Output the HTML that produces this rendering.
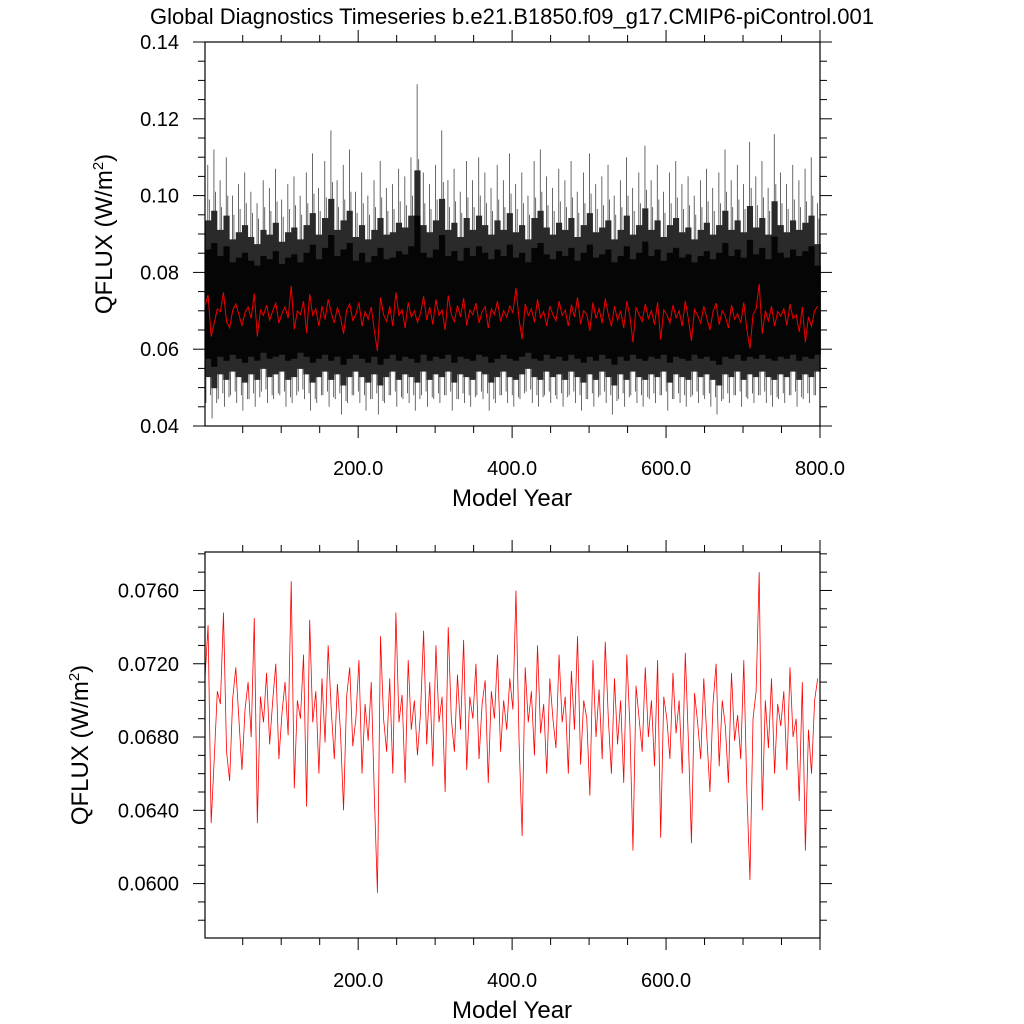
<!DOCTYPE html>
<html><head><meta charset="utf-8"><style>
html,body{margin:0;padding:0;background:#fff}
svg{display:block;font-family:"Liberation Sans",Arial,sans-serif}
</style></head><body>
<svg id="chart" width="1024" height="1024" viewBox="0 0 1024 1024">
<text x="512" y="24" text-anchor="middle" font-size="22">Global Diagnostics Timeseries b.e21.B1850.f09_g17.CMIP6-piControl.001</text>
<g id="top"></g>
<g id="bot"></g>
</svg>
<script>
// annual-mean QFLUX, years 1,5,9,...,797
const annualYears = [];
for (let i = 0; i < 200; i++) annualYears.push(1 + 4 * i);
const annualValues = [
0.0712,0.0741,0.0633,0.0668,0.0705,0.0698,0.0748,0.0672,0.0656,0.0701,0.0718,0.0690,0.0662,0.0695,0.0710,0.0680,0.0745,0.0633,0.0702,0.0688,0.0715,0.0676,0.0700,0.0720,0.0668,
0.0693,0.0710,0.0681,0.0765,0.0652,0.0700,0.0690,0.0725,0.0642,0.0744,0.0688,0.0705,0.0660,0.0712,0.0677,0.0730,0.0695,0.0668,0.0709,0.0683,0.0640,0.0702,0.0718,0.0675,0.0690,
0.0722,0.0660,0.0698,0.0678,0.0710,0.0648,0.0595,0.0735,0.0690,0.0672,0.0712,0.0660,0.0748,0.0688,0.0703,0.0655,0.0722,0.0684,0.0700,0.0670,0.0693,0.0738,0.0676,0.0710,0.0664,
0.0730,0.0688,0.0702,0.0650,0.0740,0.0690,0.0672,0.0714,0.0684,0.0733,0.0662,0.0702,0.0690,0.0720,0.0668,0.0698,0.0711,0.0655,0.0705,0.0690,0.0725,0.0672,0.0700,0.0684,0.0712,
0.0695,0.0760,0.0678,0.0626,0.0718,0.0688,0.0705,0.0670,0.0730,0.0682,0.0698,0.0660,0.0712,0.0690,0.0674,0.0725,0.0688,0.0702,0.0660,0.0716,0.0684,0.0735,0.0665,0.0700,0.0690,
0.0648,0.0722,0.0680,0.0706,0.0668,0.0732,0.0690,0.0660,0.0712,0.0676,0.0700,0.0655,0.0725,0.0686,0.0618,0.0708,0.0690,0.0672,0.0718,0.0680,0.0700,0.0664,0.0722,0.0625,0.0702,
0.0690,0.0668,0.0715,0.0682,0.0700,0.0660,0.0726,0.0678,0.0622,0.0704,0.0688,0.0668,0.0712,0.0680,0.0650,0.0698,0.0720,0.0664,0.0700,0.0686,0.0655,0.0715,0.0678,0.0692,0.0668,
0.0722,0.0650,0.0602,0.0690,0.0705,0.0770,0.0640,0.0700,0.0674,0.0712,0.0660,0.0698,0.0686,0.0705,0.0662,0.0718,0.0680,0.0690,0.0645,0.0710,0.0618,0.0684,0.0660,0.0700,0.0712];
// monthly extremes per 8-year bin
const monthlyHi = [0.108,0.112,0.104,0.110,0.100,0.103,0.106,0.101,0.098,0.104,0.102,0.107,0.099,0.103,0.105,0.100,0.106,0.111,0.102,0.109,0.117,0.104,0.108,0.112,0.101,0.106,0.100,0.104,0.109,0.102,0.103,0.107,0.105,0.110,0.129,0.106,0.103,0.108,0.117,0.104,0.107,0.101,0.109,0.104,0.110,0.106,0.102,0.108,0.104,0.111,0.103,0.106,0.100,0.109,0.112,0.105,0.102,0.107,0.104,0.109,0.101,0.106,0.111,0.103,0.105,0.108,0.100,0.104,0.110,0.102,0.106,0.113,0.104,0.108,0.101,0.106,0.109,0.103,0.105,0.100,0.104,0.107,0.102,0.106,0.112,0.104,0.108,0.103,0.114,0.105,0.109,0.102,0.116,0.106,0.103,0.108,0.104,0.107,0.110,0.098];
const monthlyLo = [0.046,0.042,0.047,0.045,0.048,0.046,0.044,0.047,0.045,0.049,0.046,0.047,0.048,0.045,0.046,0.049,0.047,0.044,0.046,0.048,0.045,0.047,0.043,0.046,0.048,0.046,0.044,0.047,0.043,0.046,0.048,0.045,0.047,0.046,0.044,0.048,0.045,0.047,0.046,0.048,0.044,0.047,0.046,0.045,0.048,0.047,0.044,0.046,0.048,0.046,0.045,0.047,0.049,0.046,0.045,0.048,0.046,0.047,0.045,0.048,0.046,0.044,0.047,0.045,0.048,0.046,0.043,0.047,0.045,0.048,0.046,0.045,0.047,0.046,0.048,0.044,0.047,0.046,0.045,0.048,0.046,0.047,0.045,0.043,0.047,0.046,0.048,0.045,0.047,0.046,0.048,0.046,0.045,0.047,0.046,0.048,0.045,0.047,0.046,0.048];
const topYTicks = ["0.04","0.06","0.08","0.10","0.12","0.14"];
const botYTicks = ["0.0600","0.0640","0.0680","0.0720","0.0760"];
const xTickLabels = ["200.0","400.0","600.0","800.0"];

const NS = "http://www.w3.org/2000/svg";
function mk(tag, attrs, parent) {
  const e = document.createElementNS(NS, tag);
  for (const k in attrs) e.setAttribute(k, attrs[k]);
  parent.appendChild(e); return e;
}
const L = 205, R = 820;
const xs = yr => L + (yr - 1) * (R - L) / 799;
const P1 = {top: 42, bot: 426, vmin: 0.04, vmax: 0.14};
const P2 = {top: 552, bot: 938, vmin: 0.05703, vmax: 0.0781};
const ys = (P, v) => P.bot - (v - P.vmin) / (P.vmax - P.vmin) * (P.bot - P.top);

function frame(g, P, yMajor, yMinor, yLabels, xMaxLabel, titleX) {
  const fr = mk('rect', {x: L, y: P.top, width: R - L, height: P.bot - P.top, fill: 'none', stroke: '#000', 'stroke-width': 1.2}, g);
  
  
  for (let yr = 50; yr <= 800; yr += 50) {
    if (xs(yr) > R + 0.5) continue;
    const maj = yr % 200 === 0, len = maj ? 12 : 7;
    mk('line', {x1: xs(yr), x2: xs(yr), y1: P.bot, y2: P.bot + len, stroke: '#000'}, g);
    mk('line', {x1: xs(yr), x2: xs(yr), y1: P.top, y2: P.top - len, stroke: '#000'}, g);
  }
  xTickLabels.forEach(s => {
    const yr = parseFloat(s);
    if (yr > xMaxLabel) return;
    const t = mk('text', {x: xs(yr), y: P.bot + 49, 'text-anchor': 'middle', 'font-size': 20}, g);
    t.textContent = s;
    
    
  });
  for (let v = Math.ceil(P.vmin / yMinor - 1e-6) * yMinor; v <= P.vmax + 1e-9; v += yMinor) {
    const r = Math.round(v / yMinor);
    const maj = Math.abs(r % Math.round(yMajor / yMinor)) === 0;
    const len = maj ? 12 : 7, y = ys(P, v);
    mk('line', {x1: L, x2: L - len, y1: y, y2: y, stroke: '#000'}, g);
    mk('line', {x1: R, x2: R + len, y1: y, y2: y, stroke: '#000'}, g);
  }
  yLabels.forEach(s => {
    const t = mk('text', {x: 179, y: ys(P, parseFloat(s)) + 7, 'text-anchor': 'end', 'font-size': 20}, g);
    t.textContent = s;
    
    
  });
  const xt = mk('text', {x: 512, y: P.bot + 80, 'text-anchor': 'middle', 'font-size': 24}, g);
  xt.textContent = 'Model Year';
  
  
  const cy = (P.top + P.bot) / 2;
  const yt = mk('text', {x: titleX, y: cy, 'text-anchor': 'middle', 'font-size': 24, transform: `rotate(-90 ${titleX} ${cy})`}, g);
  yt.innerHTML = 'QFLUX (W/m<tspan dy="-9" font-size="15">2</tspan><tspan dy="9">)</tspan>';
  
  
}

// top panel: monthly series drawn as per-bin bands + spikes
const gt = document.getElementById('top');
const binW = xs(9) - xs(1);
let mid = '', inner = '', sp = '';
monthlyHi.forEach((h, i) => {
  const lo = monthlyLo[i];
  const x0 = xs(1 + i * 8);
  const mHi = 0.07 + (h - 0.07) * 0.62, mLo = 0.07 - (0.07 - lo) * 0.72;
  const iHi = 0.07 + (h - 0.07) * 0.42, iLo = 0.07 - (0.07 - lo) * 0.52;
  mid += `M${x0} ${ys(P1, mHi)}H${x0 + binW}V${ys(P1, mLo)}H${x0}Z `;
  inner += `M${x0} ${ys(P1, iHi)}H${x0 + binW}V${ys(P1, iLo)}H${x0}Z `;
  sp += `M${x0 + binW * 0.15} ${ys(P1, 0.07)}V${ys(P1, lo)} M${x0 + binW * 0.45} ${ys(P1, 0.07)}V${ys(P1, h)} M${x0 + binW * 0.7} ${ys(P1, 0.07)}V${ys(P1, (h + 0.09) / 2)} M${x0 + binW * 0.9} ${ys(P1, 0.07)}V${ys(P1, (lo + 0.05) / 2)} `;
});
const spk = mk('path', {d: sp, fill: 'none', stroke: '#444', 'stroke-width': 0.8}, gt);


const mb = mk('path', {d: mid, fill: '#2a2a2a', stroke: 'none'}, gt);


const ib = mk('path', {d: inner, fill: '#050505', stroke: 'none'}, gt);


let rp = '';
annualValues.forEach((v, i) => { rp += (i ? 'L' : 'M') + xs(annualYears[i]) + ' ' + ys(P1, v); });
const r1 = mk('path', {d: rp, fill: 'none', stroke: '#e00', 'stroke-width': 1}, gt);


frame(gt, P1, 0.02, 0.005, topYTicks, 800, 112);

// bottom panel
const gb = document.getElementById('bot');
let bp = '';
annualValues.forEach((v, i) => { bp += (i ? 'L' : 'M') + xs(annualYears[i]) + ' ' + ys(P2, v); });
const r2 = mk('path', {d: bp, fill: 'none', stroke: '#f00', 'stroke-width': 0.8}, gb);


frame(gb, P2, 0.004, 0.001, botYTicks, 700, 88);
</script>
</body></html>
